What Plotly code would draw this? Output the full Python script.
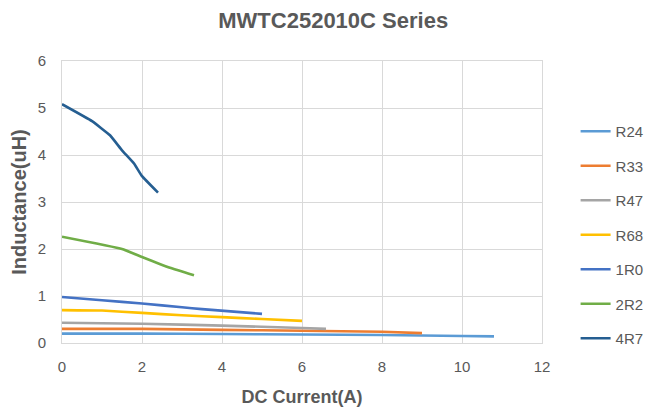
import plotly.graph_objects as go

names = ["R24", "R33", "R47", "R68", "1R0", "2R2", "4R7"]
colors = ["#5B9BD5", "#ED7D31", "#A5A5A5", "#FFC000", "#4472C4", "#70AD47", "#255E91"]

r24_x = [0, 2, 4, 6, 8, 10, 10.8]
r24_y = [0.20, 0.20, 0.19, 0.18, 0.17, 0.15, 0.14]
r33_x = [0, 2, 4, 6, 8, 9]
r33_y = [0.30, 0.30, 0.28, 0.26, 0.24, 0.21]
r47_x = [0, 2, 4, 6, 6.6]
r47_y = [0.43, 0.41, 0.37, 0.32, 0.30]
r68_x = [0, 1, 2, 3, 4, 5, 6]
r68_y = [0.70, 0.69, 0.64, 0.59, 0.55, 0.51, 0.47]
r1r0_x = [0, 1, 2, 3, 3.5, 5]
r1r0_y = [0.98, 0.91, 0.84, 0.76, 0.72, 0.62]
r2r2_x = [0, 1.5, 2.0, 2.7, 3.3]
r2r2_y = [2.26, 2.00, 1.83, 1.60, 1.44]
r4r7_x = [0, 0.75, 1.2, 1.5, 1.8, 2.0, 2.4]
r4r7_y = [5.08, 4.72, 4.42, 4.10, 3.82, 3.55, 3.20]

xs = [r24_x, r33_x, r47_x, r68_x, r1r0_x, r2r2_x, r4r7_x]
ys = [r24_y, r33_y, r47_y, r68_y, r1r0_y, r2r2_y, r4r7_y]

x_ticks = [0, 2, 4, 6, 8, 10, 12]
y_ticks = [0, 1, 2, 3, 4, 5, 6]

fig = go.Figure()
for i, (n, c) in enumerate(zip(names, colors)):
    fig.add_trace(go.Scatter(x=xs[i], y=ys[i], name=n, mode="lines",
                             line=dict(color=c, width=2.6, shape="spline", smoothing=0.3),
                             legendgroup=n))

grid = "#D9D9D9"
fam = "Liberation Sans, Arial"
tickfont = dict(family=fam, size=15, color="#595959")

fig.update_layout(
    width=657, height=403,
    margin=dict(l=54, r=123, t=53, b=68),
    paper_bgcolor="white", plot_bgcolor="white",
    title=dict(text="<b>MWTC252010C Series</b>", x=0.495, xanchor="center", y=0.97, yanchor="middle",
               font=dict(family=fam, size=22, color="#595959")),
    xaxis=dict(range=[0, 12], tickvals=x_ticks, showgrid=True, gridcolor=grid, gridwidth=1,
               zeroline=False, showline=True, linecolor=grid, mirror=True,
               tickfont=tickfont, ticks="", ticklabelstandoff=10, automargin=False,
               title=dict(text="<b>DC Current(A)</b>", font=dict(family=fam, size=18, color="#595959"),
                          standoff=16)),
    yaxis=dict(range=[0, 6], tickvals=y_ticks, showgrid=True, gridcolor=grid, gridwidth=1,
               zeroline=False, showline=True, linecolor=grid, mirror=True,
               tickfont=tickfont, ticks="", ticklabelstandoff=12, automargin=False,
               title=dict(text="<b>Inductance(uH)</b>", font=dict(family=fam, size=20, color="#595959"),
                          standoff=6)),
    legend=dict(x=1.07, xanchor="left", y=0.8085, yanchor="top",
                font=dict(family=fam, size=15, color="#595959"),
                traceorder="grouped", tracegroupgap=12, bgcolor="rgba(0,0,0,0)"),
    showlegend=True,
)

fig.write_html("out.html")
